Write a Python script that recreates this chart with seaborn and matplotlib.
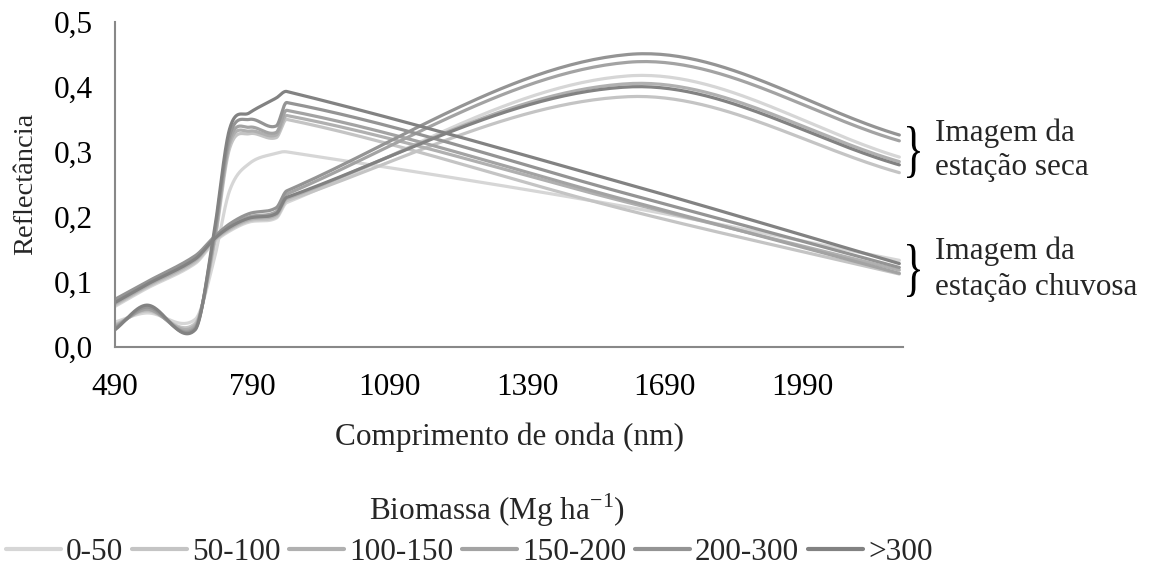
import numpy as np
import pandas as pd
import matplotlib
matplotlib.use("Agg")
import matplotlib.pyplot as plt
import seaborn as sns
from matplotlib.lines import Line2D
from matplotlib.textpath import TextPath
from matplotlib.patches import PathPatch
from matplotlib.font_manager import FontProperties
from matplotlib.transforms import Affine2D, IdentityTransform
from matplotlib.ticker import FuncFormatter

# ---------------- data ----------------
wavelengths = [490, 560, 665, 705, 740, 783, 842, 865, 1610, 2202]
classes = ["0-50", "50-100", "100-150", "150-200", "200-300", ">300"]
colors = ["#d6d6d6", "#c4c4c4", "#b0b0b0", "#a3a3a3", "#949494", "#828282"]

# dry-season image (Imagem da estação seca)
dry_0_50    = [0.062, 0.090, 0.128, 0.160, 0.178, 0.192, 0.198, 0.222, 0.417, 0.292]
dry_50_100  = [0.064, 0.092, 0.130, 0.162, 0.180, 0.194, 0.200, 0.225, 0.385, 0.268]
dry_100_150 = [0.066, 0.094, 0.133, 0.164, 0.182, 0.196, 0.203, 0.228, 0.405, 0.285]
dry_150_200 = [0.070, 0.098, 0.137, 0.166, 0.186, 0.200, 0.208, 0.235, 0.438, 0.317]
dry_200_300 = [0.073, 0.100, 0.140, 0.168, 0.189, 0.205, 0.214, 0.240, 0.450, 0.326]
dry_gt_300  = [0.068, 0.096, 0.135, 0.165, 0.184, 0.198, 0.205, 0.230, 0.400, 0.280]

# rainy-season image (Imagem da estação chuvosa)
wet_0_50    = [0.038, 0.052, 0.042, 0.130, 0.240, 0.282, 0.298, 0.300, 0.215, 0.133]
wet_50_100  = [0.034, 0.055, 0.036, 0.150, 0.305, 0.328, 0.322, 0.350, 0.210, 0.112]
wet_100_150 = [0.032, 0.057, 0.033, 0.155, 0.312, 0.332, 0.326, 0.356, 0.222, 0.118]
wet_150_200 = [0.030, 0.058, 0.030, 0.160, 0.318, 0.338, 0.330, 0.364, 0.225, 0.113]
wet_200_300 = [0.028, 0.061, 0.028, 0.165, 0.325, 0.350, 0.340, 0.376, 0.235, 0.122]
wet_gt_300  = [0.026, 0.064, 0.026, 0.170, 0.335, 0.360, 0.383, 0.393, 0.250, 0.128]

dry = [dry_0_50, dry_50_100, dry_100_150, dry_150_200, dry_200_300, dry_gt_300]
wet = [wet_0_50, wet_50_100, wet_100_150, wet_150_200, wet_200_300, wet_gt_300]

x_ticks = [490, 790, 1090, 1390, 1690, 1990]
y_ticks = [0.0, 0.1, 0.2, 0.3, 0.4, 0.5]


# smoothed line through the measured points (cubic Hermite in x)
def smooth(xs, ys, n=60):
    x = np.asarray(xs, float)
    y = np.asarray(ys, float)
    m = np.empty_like(y)
    m[0] = (y[1] - y[0]) / (x[1] - x[0])
    m[-1] = (y[-1] - y[-2]) / (x[-1] - x[-2])
    m[1:-1] = (y[2:] - y[:-2]) / (x[2:] - x[:-2])
    ox, oy = [], []
    t = np.linspace(0, 1, n)
    for i in range(len(x) - 1):
        h = x[i + 1] - x[i]
        h00 = 2 * t**3 - 3 * t**2 + 1
        h10 = t**3 - 2 * t**2 + t
        h01 = -2 * t**3 + 3 * t**2
        h11 = t**3 - t**2
        yy = h00 * y[i] + h10 * h * m[i] + h01 * y[i + 1] + h11 * h * m[i + 1]
        xx = x[i] + t * h
        if i > 0:
            xx, yy = xx[1:], yy[1:]
        ox.append(xx)
        oy.append(yy)
    return np.concatenate(ox), np.concatenate(oy)


rows = []
for season, sets in (("seca", dry), ("chuvosa", wet)):
    for cls, vals in zip(classes, sets):
        sx, sy = smooth(wavelengths, vals)
        for a, b in zip(sx, sy):
            rows.append({"wl": a, "refl": b, "Biomassa": cls, "season": season})
df = pd.DataFrame(rows)

# ---------------- figure ----------------
sns.set_theme(style="white")
plt.rcParams["font.family"] = ["Liberation Serif", "DejaVu Serif"]
plt.rcParams["mathtext.fontset"] = "custom"
plt.rcParams["mathtext.rm"] = "Liberation Serif"

W, H = 1152, 569
fig = plt.figure(figsize=(W / 100, H / 100), dpi=100)
ax = fig.add_axes([115 / W, 1 - 346.7 / H, (903 - 115) / W, (346.7 - 22) / H])

palette = dict(zip(classes, colors))
sns.lineplot(data=df, x="wl", y="refl", hue="Biomassa", units="season",
             estimator=None, sort=False, palette=palette, hue_order=classes,
             linewidth=2.3, legend=False, ax=ax)

ax.set_xlim(490, 2210)
ax.set_ylim(0, 0.5)
ax.set_xticks(x_ticks)
ax.set_yticks(y_ticks)
ax.yaxis.set_major_formatter(FuncFormatter(lambda v, p: f"{v:.1f}".replace(".", ",")))
fs = 22.5
ax.tick_params(axis="both", which="major", labelsize=fs, colors="#888888",
               labelcolor="black", length=8, width=1.5, direction="out")
ax.tick_params(axis="x", pad=11)
ax.tick_params(axis="y", pad=8)
for s in ["top", "right"]:
    ax.spines[s].set_visible(False)
for s in ["left", "bottom"]:
    ax.spines[s].set_color("#888888")
    ax.spines[s].set_linewidth(1.5)
ax.grid(False)

ax.set_xlabel("Comprimento de onda (nm)", fontsize=fs, labelpad=15)
ax.set_ylabel("Reflectância", fontsize=20.5, labelpad=11)

# annotations with braces
fp = FontProperties(family="Liberation Serif")


def brace(x0, x1, ytop, ybot):
    tp = TextPath((0, 0), "}", size=1, prop=fp)
    ext = tp.get_extents()
    sx = (x1 - x0) / ext.width
    sy = (ybot - ytop) / ext.height
    tr = Affine2D().translate(-ext.x0, -ext.y0).scale(sx, sy).translate(x0, H - ybot)
    patch = PathPatch(tr.transform_path(tp), facecolor="black", edgecolor="none",
                      transform=IdentityTransform())
    fig.patches.append(patch)


brace(907, 920, 126, 178)
brace(907, 920, 244, 297)
for txt, yc in (("Imagem da", 133), ("estação seca", 168),
                ("Imagem da", 251), ("estação chuvosa", 287)):
    fig.text(935 / W, 1 - yc / H, txt, fontsize=fs, va="center", ha="left")

# legend
fig.text(497 / W, 1 - 510 / H, r"Biomassa (Mg ha$^{\mathregular{-1}}$)", fontsize=fs,
         ha="center", va="center")
handles = [Line2D([0], [0], color=c, lw=3) for c in colors]
fig.legend(handles, classes, loc="center left", bbox_to_anchor=(6 / W, 1 - 552 / H),
           ncol=6, frameon=False, fontsize=fs, handlelength=1.76, handletextpad=0.16,
           columnspacing=0.28, borderpad=0, borderaxespad=0)

fig.savefig("out.png", dpi=100)
